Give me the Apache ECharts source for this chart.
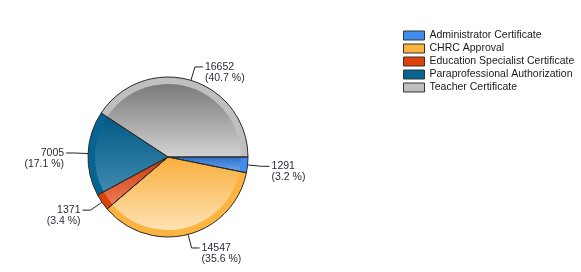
<!DOCTYPE html>
<html><head><meta charset="utf-8">
<script src="https://cdn.jsdelivr.net/npm/echarts@6/dist/echarts.min.js"></script>
<style>html,body{margin:0;padding:0;background:#fff}#c{width:581px;height:272px}</style>
</head><body><div id="c"></div>
<script>
const categories = ["Administrator Certificate","CHRC Approval","Education Specialist Certificate","Paraprofessional Authorization","Teacher Certificate"];
const values = [1291, 14547, 1371, 7005, 16652];
const colors = ["#418CF0","#FCB441","#E0400A","#056492","#BFBFBF"];
const darkTop = ["#2f6fc4","#f9ae3c","#c9390a","#045a85","#7a7a7a"];
const lightBottom = ["#6aa6f3","#fde2b5","#ef7b55","#3e8ab0","#d2d2d2"];
const total = values.reduce((a,b)=>a+b,0);
const center = [168,157];
const font = "Liberation Sans";

const baseData = categories.map((n,i)=>({name:n,value:values[i],itemStyle:{color:colors[i]}}));
const gradData = categories.map((n,i)=>({name:n,value:values[i],itemStyle:{color:{type:'linear',x:0,y:0,x2:0,y2:1,colorStops:[{offset:0,color:darkTop[i]},{offset:1,color:lightBottom[i]}]}}}));
const topData = categories.map((n,i)=>({name:n,value:values[i]}));

const chart = echarts.init(document.getElementById('c'),null,{renderer:'canvas'});
chart.setOption({
  animation:false,
  color:colors,
  legend:{
    orient:'vertical', left:403, top:30, padding:0, itemWidth:21, itemHeight:9, itemGap:2,
    icon:'rect', data:categories,
    itemStyle:{borderColor:'#333',borderWidth:1},
    textStyle:{fontFamily:font,fontSize:10.5,color:'#1a1a1a',lineHeight:11},
    selectedMode:false
  },
  series:[
    {type:'pie',center:center,radius:[0,80],startAngle:0,clockwise:true,silent:true,
     label:{show:false},labelLine:{show:false},data:baseData,itemStyle:{borderWidth:0},legendHoverLink:false},
    {type:'pie',center:center,radius:[0,73],startAngle:0,clockwise:true,silent:true,
     label:{show:false},labelLine:{show:false},data:gradData,itemStyle:{borderWidth:0},legendHoverLink:false},
    {type:'pie',center:center,radius:[0,80],startAngle:0,clockwise:true,silent:true,
     data:topData,
     itemStyle:{color:'rgba(0,0,0,0)',borderColor:'#2a2a2a',borderWidth:1},
     label:{show:true,position:'outside',fontFamily:font,fontSize:10.5,color:'#2a2a3a',lineHeight:11,
       distanceToLabelLine:2,
       formatter:p=>'{e| }\n'+p.value+'\n('+(p.value/total*100).toFixed(1)+' %)',
       rich:{e:{fontSize:10.5,lineHeight:11}}},
     labelLine:{show:true,length:14,length2:8,lineStyle:{color:'#222',width:1}}
    }
  ]
});
</script></body></html>
